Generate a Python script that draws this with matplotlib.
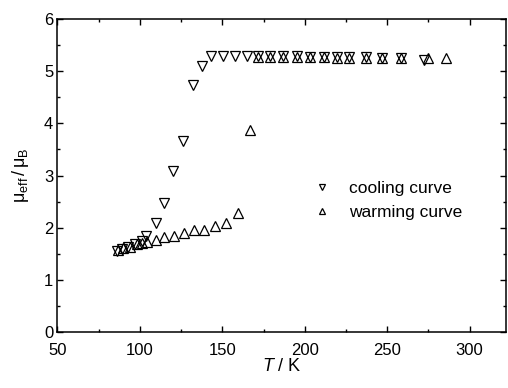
import numpy as np
from matplotlib import pyplot as plt
from matplotlib.ticker import MultipleLocator

plt.rcParams['font.family'] = ['Liberation Sans', 'DejaVu Sans']
plt.rcParams['mathtext.fontset'] = 'custom'
plt.rcParams['mathtext.rm'] = 'Liberation Sans'
plt.rcParams['mathtext.it'] = 'Liberation Sans:italic'

# cooling curve (down triangles)
cool_T = [86, 89, 93, 97, 101, 104, 109.6, 114.5, 120.3, 126.1, 132, 137.9,
          143.2, 150.5, 157.8, 165.1, 171.8, 179.1, 187, 195, 202.9, 211.4,
          219.3, 226.6, 237, 246.7, 258.3, 272.3]
cool_mu = [1.56, 1.60, 1.64, 1.68, 1.74, 1.84, 2.09, 2.47, 3.08, 3.66, 4.74, 5.10,
           5.30, 5.30, 5.30, 5.30, 5.30, 5.29, 5.29, 5.29, 5.28, 5.28,
           5.28, 5.27, 5.27, 5.26, 5.26, 5.22]

# warming curve (up triangles)
warm_T = [87, 90, 94, 98, 101, 104.4, 109.6, 114.9, 120.5, 126.6, 132.6, 138.7,
          145.3, 152.4, 159.5, 166.5, 171.8, 179.1, 187, 195, 202.9, 211.4,
          219.3, 226.6, 237, 246.7, 258.3, 274.5, 285.7]
warm_mu = [1.57, 1.61, 1.64, 1.68, 1.71, 1.72, 1.77, 1.82, 1.85, 1.90, 1.95, 1.96,
           2.04, 2.09, 2.28, 3.88, 5.28, 5.28, 5.27, 5.27, 5.27, 5.27,
           5.26, 5.26, 5.26, 5.25, 5.25, 5.26, 5.25]

fig = plt.figure(figsize=(5.08, 3.88), dpi=100)
ax = fig.add_axes([0.113, 0.144, 0.883, 0.807])

ax.plot(cool_T, cool_mu, linestyle='none', marker='v', markersize=6.5,
        markerfacecolor='none', markeredgecolor='black', markeredgewidth=0.9,
        label='cooling curve')
ax.plot(warm_T, warm_mu, linestyle='none', marker='^', markersize=6.5,
        markerfacecolor='none', markeredgecolor='black', markeredgewidth=0.9,
        label='warming curve')

ax.set_xlim(50, 322)
ax.set_ylim(0, 6)
ax.xaxis.set_major_locator(MultipleLocator(50))
ax.xaxis.set_minor_locator(MultipleLocator(25))
ax.yaxis.set_major_locator(MultipleLocator(1))
ax.yaxis.set_minor_locator(MultipleLocator(0.5))
ax.tick_params(which='both', direction='in', top=True, right=True, width=1,
               labelsize=12, colors='black')
ax.tick_params(which='major', length=4)
ax.tick_params(which='minor', length=2.5)
ax.tick_params(axis='x', pad=8)
ax.tick_params(axis='y', pad=3)
for s in ax.spines.values():
    s.set_linewidth(1.1)

ax.set_xlabel('$T$ / K', fontsize=13, labelpad=0)
ax.set_ylabel(r'$\mathregular{μ_{eff}\,/\,μ_B}$', fontsize=13, labelpad=9)

ax.legend(loc='center left', bbox_to_anchor=(0.535, 0.42), frameon=False,
          fontsize=12.5, handletextpad=1.0, labelspacing=0.5, markerscale=0.75,
          handlelength=1.05)

plt.savefig('out.png', dpi=100)
